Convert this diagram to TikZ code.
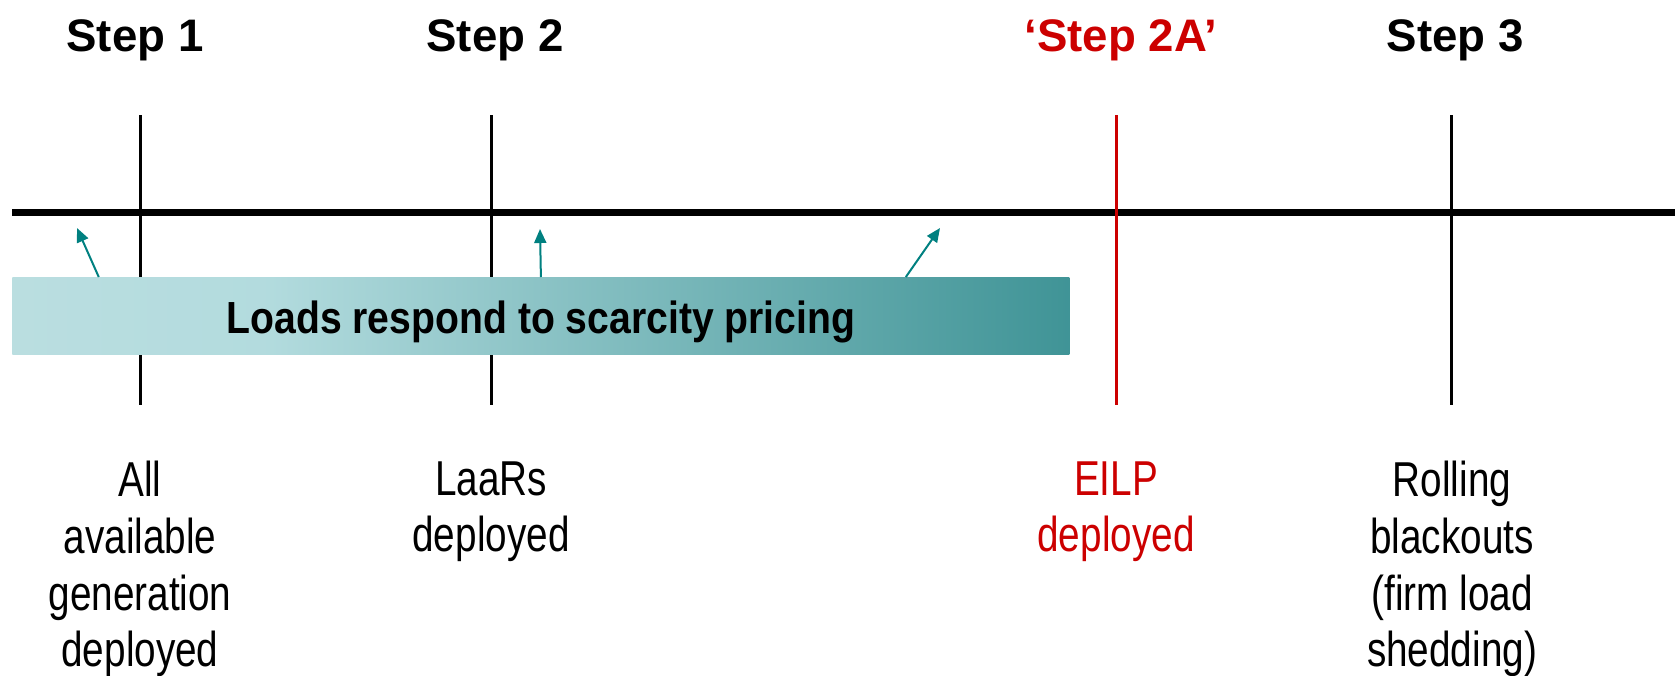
\documentclass[tikz,border=0pt]{standalone}
\usepackage{fontspec}
\setmainfont{Liberation Sans}
\newfontfamily\narrowfont[FakeStretch=0.79]{Liberation Sans}
\newfontfamily\barfont[FakeStretch=0.87]{Liberation Sans}
\usetikzlibrary{arrows.meta,calc}
\definecolor{alertred}{RGB}{204,0,0}
\definecolor{respteal}{RGB}{0,128,128}
\pgfdeclarehorizontalshading{scarcity}{100bp}{rgb(0bp)=(0.73,0.87,0.88); rgb(25bp)=(0.73,0.87,0.88); rgb(37bp)=(0.70,0.86,0.87); rgb(75bp)=(0.25,0.58,0.59); rgb(100bp)=(0.25,0.58,0.59)}
\tikzset{
  steplabel/.style={anchor=base,font=\bfseries\fontsize{22.8pt}{26pt}\selectfont},
  outcome/.style={anchor=north,inner sep=0pt,align=center,font=\narrowfont\fontsize{24.5pt}{28.3pt}\selectfont},
  tick/.style={line width=1.5pt},
  resp/.style={->,respteal,line width=1pt}
}
\begin{document}
\begin{tikzpicture}[x=0.5pt,y=-0.5pt,>={Triangle[length=7pt,width=6pt]}]
\useasboundingbox (0,0) rectangle (1675,675);
\draw[line width=3.5pt] (12,212) coordinate (t0)--(1675,212) coordinate (t1);
\draw[tick] (140,115)--(140,405); \draw[tick] (491,115)--(491,405);
\draw[tick,alertred] (1116,115)--(1116,405); \draw[tick] (1451,115)--(1451,405);
\node[steplabel] (s1) at (135,51) {Step 1};
\node[steplabel] (s2) at (495,51) {Step 2};
\node[steplabel,text=alertred] (s2a) at (1121,51) {‘Step 2A’};
\node[steplabel] (s3) at (1455,51) {Step 3};
% response bar
\node[shading=scarcity,anchor=north west,minimum width=528.5pt,minimum height=38.5pt,inner sep=0pt] (bar) at (12,277) {};
\node[font=\barfont\bfseries\fontsize{22.5pt}{26pt}\selectfont] (loads) at ([yshift=-3pt]bar.center) {Loads respond to scarcity pricing};
\coordinate (r1) at (77,228); \coordinate (r2) at (540,229); \coordinate (r3) at (940,228);
\draw[resp] ($(bar.north west)!0.082!(bar.north east)$)--(r1);
\draw[resp] (bar.north)--(r2);
\draw[resp] ($(bar.north west)!0.845!(bar.north east)$)--(r3);
% what happens at each step
\node[outcome] (o1) at (140,461) {All\\available\\generation\\deployed};
\node[outcome] (o2) at (491,461) {LaaRs\\deployed};
\node[outcome,text=alertred] (o2a) at (1116,461) {EILP\\deployed};
\node[outcome] (o3) at (1452,461) {Rolling\\blackouts\\(firm load\\shedding)};
\end{tikzpicture}
\end{document}
